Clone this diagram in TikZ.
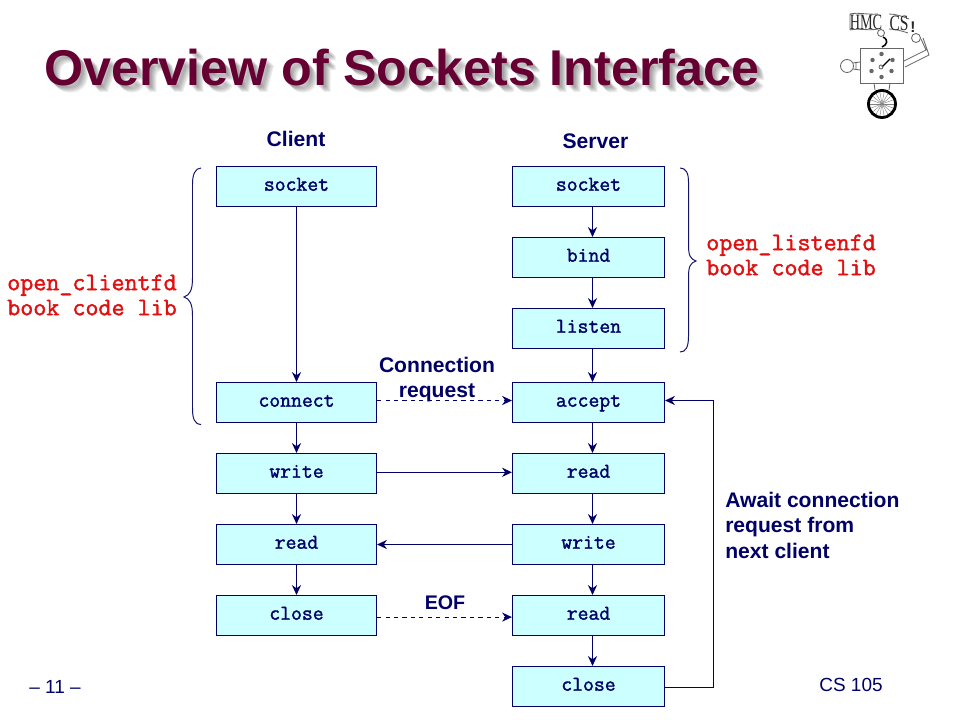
\documentclass[tikz,border=0pt]{standalone}
\usepackage{fontspec}
\setmainfont{Liberation Sans}
\newfontfamily\logofont{Liberation Serif}
\newfontfamily\codefont[FakeBold=1.6]{Latin Modern Mono}
\usetikzlibrary{arrows.meta, calc}
\definecolor{navytext}{HTML}{000066}
\definecolor{boxfill}{HTML}{CCFFFF}
\definecolor{titlered}{HTML}{660033}
\definecolor{libred}{HTML}{E01010}

\begin{document}
\begin{tikzpicture}[x=0.025cm, y=-0.025cm]
    % --- Style Definitions ---
    \tikzset{
        % Function boxes
        client box/.style={
            draw=navytext,
            fill=boxfill,
            line width=0.8pt,
            minimum width=4cm,
            minimum height=1cm,
            inner sep=0pt,
            text=navytext,
            text height=8pt,
            text depth=2pt,
            font=\codefont\fontsize{15}{15}\selectfont
        },
        server box/.style={
            client box,
            minimum width=3.8cm
        },
        % Text styling
        label text/.style={
            font=\bfseries\fontsize{15}{18}\selectfont,
            text=navytext,
            align=center,
            inner sep=0pt
        },
        lib text/.style={
            font=\codefont\fontsize{18}{17.8}\selectfont,
            text=libred,
            align=left,
            inner sep=0pt
        },
        foot text/.style={
            font=\fontsize{13.5}{15}\selectfont,
            text=navytext,
            inner sep=0pt
        },
        title text/.style={
            font=\bfseries\fontsize{35.75}{40}\selectfont,
            anchor=west,
            inner sep=0pt
        },
        % Arrow styling
        flow arrow/.style={
            -{Stealth[length=7pt, width=6.5pt]},
            navytext,
            line width=0.8pt
        },
        dash arrow/.style={
            flow arrow,
            dashed,
            line width=0.7pt
        },
        brace line/.style={
            draw=navytext!85!gray,
            line width=0.7pt
        },
        logo line/.style={
            draw=black!60,
            line width=0.6pt
        }
    }

    % --- 1. Page ---
    \useasboundingbox (0,0) rectangle (960,720);

    % --- 2. Title ---
    \foreach \shift in {2,3,4,5,6,7} {
        \node[title text, text=black, opacity=0.07] at (44+\shift,68+\shift) {Overview of Sockets Interface};
    }
    \node[title text, text=titlered] (title) at (44,68) {Overview of Sockets Interface};

    % --- 3. Client Column ---
    \node[label text] (client) at (296,139) {Client};
    \node[client box] (csocket) at (296.5,186.5) {socket};
    \node[client box] (cconnect) at (296.5,402.5) {connect};
    \node[client box] (cwrite) at (296.5,473.5) {write};
    \node[client box] (cread) at (296.5,544.5) {read};
    \node[client box] (cclose) at (296.5,615.5) {close};

    % --- 4. Server Column ---
    \node[label text] (server) at (595.5,141) {Server};
    \node[server box] (ssocket) at (588.5,186.5) {socket};
    \node[server box] (sbind) at (588.5,257.5) {bind};
    \node[server box] (slisten) at (588.5,328.5) {listen};
    \node[server box] (saccept) at (588.5,402.5) {accept};
    \node[server box] (sread) at (588.5,473.5) {read};
    \node[server box] (swrite) at (588.5,544.5) {write};
    \node[server box] (sreadeof) at (588.5,615.5) {read};
    \node[server box] (sclose) at (588.5,686.5) {close};

    % --- 5. Flow Arrows ---
    \foreach \from/\to in {csocket/cconnect, cconnect/cwrite, cwrite/cread, cread/cclose} {
        \draw[flow arrow] (\from) -- (\to);
    }
    % Server arrows sit a little right of the box centres
    \foreach \from/\to in {ssocket/sbind, sbind/slisten, slisten/saccept, saccept/sread, sread/swrite, swrite/sreadeof, sreadeof/sclose} {
        \draw[flow arrow] ([xshift=0.1cm]\from.south) -- ([xshift=0.1cm]\to.north);
    }
    \draw[flow arrow] ([yshift=0.03cm]cwrite.east) -- ([yshift=0.03cm]sread.west);
    \draw[flow arrow] (swrite.west) -- (cread.east);
    \draw[dash arrow] ([yshift=0.05cm]cconnect.east) -- ([yshift=0.05cm]saccept.west);
    \draw[dash arrow] ([yshift=-0.04cm]cclose.east) -- ([yshift=-0.04cm]sreadeof.west);
    % Loop back to accept
    \draw[flow arrow] ([yshift=-0.03cm]sclose.east) -- ++(48,0) |- ([yshift=0.05cm]saccept.east);

    % --- 6. Annotations ---
    \node[label text, font=\bfseries\fontsize{15}{17.8}\selectfont] (connreq) at (437,380) {Connection\\request};
    \node[label text, font=\bfseries\fontsize{14}{17}\selectfont] (eof) at (445,603) {EOF};
    \node[label text, align=left, anchor=north west] (await) at (725,492) {Await connection\\request from\\next client};
    \node[lib text, anchor=east] (clientlib) at (177,295) {open\_clientfd\\book code lib};
    \node[lib text, anchor=west] (serverlib) at (706,255) {open\_listenfd\\book code lib};

    % --- 7. Braces ---
    \draw[brace line] (201,168) .. controls (195,168) and (192.5,175) .. (192.5,184)
        -- (192.5,278) .. controls (192.5,290) and (190,295) .. (184,297)
        .. controls (190,299) and (192.5,304) .. (192.5,316)
        -- (192.5,408) .. controls (192.5,418) and (194,424) .. (201,424.5);
    \draw[brace line] (680,168) .. controls (686,168) and (688.5,173) .. (688.5,182)
        -- (688.5,245) .. controls (688.5,255) and (690,259) .. (696,261)
        .. controls (690,263) and (688.5,267) .. (688.5,277)
        -- (688.5,336) .. controls (688.5,347) and (686,352) .. (680,352);

    % --- 8. Footer ---
    \node[foot text] (pagenum) at (55,687) {-- 11 --};
    \node[foot text] (course) at (851,685) {CS 105};

    % --- 9. Logo ---
    \draw[logo line] (850,14) .. controls (858,12) and (868,15) .. (878,14)
        (850,30) .. controls (858,28) and (868,31) .. (878,29)
        (850,14) -- (850,30)
        (889,14) .. controls (895,14) and (902,16) .. (909,19)
        (889,29) .. controls (895,29) and (902,31) .. (908,33);
    \node[font=\logofont\fontsize{13}{13}\selectfont, text=black!85, inner sep=0pt, xscale=0.78, yscale=1.2] (logohmc) at (866,22) {HMC};
    \node[font=\logofont\fontsize{13}{13}\selectfont, text=black!85, inner sep=0pt, xscale=0.85, yscale=1.2] (logocs) at (899,23) {CS};
    \node[font=\bfseries\fontsize{11}{11}\selectfont, text=black!85, inner sep=0pt] (logomark) at (913,27) {!};
    % Hook
    \draw[black, line width=1.1pt] (883,37) .. controls (889,40) and (887,45) .. (882,47);
    \draw[logo line] (881,33) circle (3.5);
    % Body with dials
    \draw[logo line] (860,48) rectangle (903,83);
    \foreach \dx/\dy in {0/-11, 11/-5, 10/6, 0/12, -10/6, -9/-5} {
        \fill[black!60] (881.5+\dx,65+\dy) circle (2.2);
    }
    \draw[black, line width=1pt] (882,67) -- (890,59);
    \draw[logo line] (881,67) circle (2);
    % Lamp on the left
    \draw[logo line] (847,66) circle (6.5);
    \draw[logo line] (853,63) -- (860,62) (853,69) -- (860,70) (856,62) -- (856,70);
    % Arm on the right
    \draw[logo line] (904,61) -- (926,50) -- (921,39) (905,67) -- (929,55) -- (923,38);
    \draw[logo line] (916,38) circle (4.5);
    % Wheel
    \draw[logo line] (874,83) -- (875,90) (890,83) -- (889,90);
    \foreach \ang in {0,20,...,340} {
        \draw[black!50, line width=0.3pt] (882,104) -- ++(\ang:13);
    }
    \draw[black, line width=2pt] (882,104) circle (13.5);
\end{tikzpicture}
\end{document}
